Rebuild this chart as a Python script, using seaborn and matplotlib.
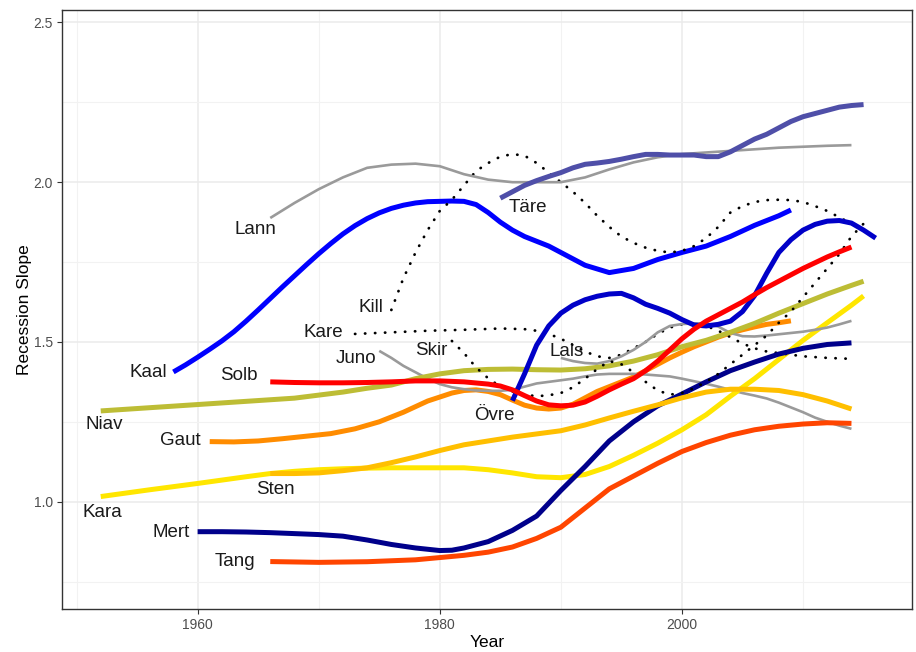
import numpy as np
import pandas as pd
import matplotlib
matplotlib.use("Agg")
import matplotlib.pyplot as plt
import seaborn as sns

# ---- station series: year / recession slope ----
lann_year = [1966, 1968, 1970, 1972, 1974, 1976, 1978, 1980, 1982, 1984, 1986, 1988, 1990,
             1992, 1994, 1996, 1998, 2000, 2002, 2004, 2006, 2008, 2010, 2012, 2014]
lann_val = [1.888, 1.935, 1.978, 2.015, 2.045, 2.055, 2.058, 2.050, 2.025, 2.008, 2.000, 2.000, 2.000,
            2.015, 2.040, 2.062, 2.078, 2.088, 2.093, 2.098, 2.103, 2.108, 2.111, 2.114, 2.116]

tare_year = [1985, 1986, 1987, 1988, 1989, 1990, 1991, 1992, 1993, 1994, 1995, 1996, 1997, 1998,
             1999, 2000, 2001, 2002, 2003, 2004, 2005, 2006, 2007, 2008, 2009, 2010, 2011, 2012,
             2013, 2014, 2015]
tare_val = [1.950, 1.970, 1.990, 2.005, 2.018, 2.030, 2.045, 2.056, 2.060, 2.065, 2.072, 2.080, 2.087,
            2.087, 2.085, 2.085, 2.085, 2.080, 2.080, 2.095, 2.115, 2.135, 2.150, 2.170, 2.190, 2.205,
            2.215, 2.225, 2.235, 2.240, 2.243]

kaal_year = [1958, 1959, 1960, 1961, 1962, 1963, 1964, 1965, 1966, 1967, 1968, 1969, 1970, 1971,
             1972, 1973, 1974, 1975, 1976, 1977, 1978, 1979, 1980, 1981, 1982,
             1983, 1984, 1985, 1986, 1987, 1988, 1989, 1990, 1992, 1994, 1996, 1998, 2000, 2002,
             2004, 2006, 2008, 2009]
kaal_val = [1.406, 1.428, 1.452, 1.477, 1.503, 1.532, 1.565, 1.600, 1.636, 1.672, 1.707, 1.742, 1.776,
            1.808, 1.838, 1.864, 1.886, 1.904, 1.918, 1.928, 1.935, 1.939, 1.940, 1.941, 1.940,
            1.930, 1.905, 1.875, 1.850, 1.830, 1.815, 1.800, 1.780, 1.740, 1.717, 1.730,
            1.758, 1.780, 1.800, 1.830, 1.865, 1.895, 1.913]

ovre_year = [1986, 1987, 1988, 1989, 1990, 1991, 1992, 1993, 1994, 1995, 1996, 1997, 1998, 1999,
             2000, 2001, 2002, 2003, 2004, 2005, 2006, 2007, 2008, 2009, 2010, 2011, 2012, 2013,
             2014, 2015, 2016]
ovre_val = [1.316, 1.400, 1.490, 1.550, 1.590, 1.615, 1.632, 1.643, 1.650, 1.652, 1.638, 1.618, 1.605,
            1.590, 1.570, 1.553, 1.550, 1.555, 1.565, 1.595, 1.645, 1.715, 1.780, 1.820, 1.850, 1.868,
            1.878, 1.880, 1.872, 1.850, 1.825]

kill_year = [1976, 1977, 1978, 1979, 1980, 1981, 1982, 1983, 1984, 1985, 1986, 1987, 1988, 1989,
             1990, 1991, 1992, 1993, 1994, 1995, 1996, 1997, 1998, 1999, 2000, 2001, 2002, 2003,
             2004, 2005, 2006, 2007, 2008, 2009, 2010, 2011, 2012, 2013, 2014, 2015]
kill_val = [1.600, 1.700, 1.780, 1.850, 1.910, 1.945, 1.990, 2.035, 2.060, 2.080, 2.088, 2.083, 2.060,
            2.030, 2.000, 1.970, 1.935, 1.895, 1.860, 1.830, 1.810, 1.795, 1.785, 1.780, 1.785, 1.800,
            1.825, 1.860, 1.905, 1.925, 1.938, 1.944, 1.945, 1.944, 1.938, 1.925, 1.910, 1.890, 1.870,
            1.850]

kare_year = [1973, 1976, 1979, 1982, 1985, 1987, 1988, 1989, 1990, 1991, 1992, 1993, 1994, 1995,
             1996, 1997, 1998, 1999, 2000, 2001, 2002, 2003, 2004, 2005, 2006, 2007, 2008, 2010,
             2012, 2014]
kare_val = [1.525, 1.530, 1.535, 1.538, 1.542, 1.540, 1.535, 1.525, 1.510, 1.490, 1.470, 1.455, 1.450,
            1.460, 1.480, 1.500, 1.525, 1.545, 1.555, 1.555, 1.550, 1.535, 1.515, 1.495, 1.480, 1.470,
            1.465, 1.455, 1.450, 1.447]

skir_year = [1981, 1982, 1983, 1984, 1985, 1986, 1987, 1988, 1989, 1990, 1991, 1992, 1993, 1994,
             1995, 1996, 1997, 1998, 1999, 2000, 2001, 2002, 2003, 2004, 2005, 2006, 2007, 2008,
             2009, 2010, 2011, 2012, 2013, 2014, 2015]
skir_val = [1.503, 1.465, 1.420, 1.386, 1.360, 1.345, 1.335, 1.330, 1.333, 1.340, 1.358, 1.385, 1.415,
            1.440, 1.430, 1.405, 1.375, 1.348, 1.335, 1.340, 1.355, 1.375, 1.400, 1.430, 1.460, 1.490,
            1.520, 1.560, 1.595, 1.640, 1.685, 1.730, 1.775, 1.830, 1.870]

lais_year = [1990, 1991, 1992, 1993, 1994, 1995, 1996, 1997, 1998, 1999, 2000, 2001, 2002, 2003,
             2004, 2005, 2006, 2007, 2008, 2009, 2010, 2011, 2012, 2013, 2014]
lais_val = [1.450, 1.440, 1.434, 1.432, 1.440, 1.455, 1.475, 1.500, 1.530, 1.550, 1.556, 1.558, 1.558,
            1.548, 1.528, 1.518, 1.517, 1.520, 1.524, 1.528, 1.532, 1.538, 1.545, 1.555, 1.566]

juno_year = [1975, 1976, 1977, 1978, 1979, 1980, 1981, 1982, 1983, 1984, 1985, 1986, 1987, 1988,
             1989, 1990, 1991, 1992, 1993, 1994, 1995, 1996, 1997, 1998, 1999, 2000, 2001, 2002,
             2003, 2004, 2005, 2006, 2007, 2008, 2009, 2010, 2011, 2012, 2013, 2014]
juno_val = [1.472, 1.450, 1.425, 1.405, 1.385, 1.368, 1.358, 1.352, 1.348, 1.347, 1.347, 1.350, 1.360,
            1.370, 1.375, 1.380, 1.385, 1.392, 1.398, 1.400, 1.400, 1.400, 1.398, 1.395, 1.392, 1.385,
            1.377, 1.369, 1.360, 1.350, 1.340, 1.332, 1.323, 1.310, 1.295, 1.280, 1.263, 1.250, 1.238,
            1.228]

solb_year = [1966, 1968, 1970, 1972, 1974, 1976, 1978, 1980, 1982, 1984, 1985, 1986, 1987, 1988,
             1989, 1990, 1991, 1992, 1993, 1994, 1995, 1996, 1997, 1998, 1999, 2000, 2001, 2002,
             2003, 2004, 2005, 2006, 2007, 2008, 2009, 2010, 2011, 2012, 2013, 2014]
solb_val = [1.375, 1.373, 1.372, 1.372, 1.373, 1.375, 1.378, 1.378, 1.375, 1.368, 1.362, 1.350, 1.332,
            1.315, 1.303, 1.300, 1.302, 1.312, 1.330, 1.350, 1.368, 1.385, 1.410, 1.440, 1.475, 1.510,
            1.540, 1.565, 1.585, 1.605, 1.625, 1.648, 1.670, 1.690, 1.710, 1.730, 1.748, 1.766, 1.782,
            1.797]

niav_year = [1952, 1956, 1960, 1964, 1968, 1972, 1974, 1976, 1978, 1980, 1982, 1984, 1986, 1988,
             1990, 1992, 1994, 1996, 1998, 2000, 2002, 2004, 2006, 2008, 2010, 2012, 2014, 2015]
niav_val = [1.284, 1.294, 1.304, 1.314, 1.324, 1.343, 1.355, 1.365, 1.385, 1.400, 1.410, 1.414, 1.415,
            1.413, 1.412, 1.416, 1.425, 1.440, 1.460, 1.485, 1.505, 1.530, 1.558, 1.590, 1.620, 1.650,
            1.677, 1.690]

gaut_year = [1961, 1963, 1965, 1967, 1969, 1971, 1973, 1975, 1977, 1979, 1981, 1982, 1983, 1984,
             1985, 1986, 1987, 1988, 1989, 1990, 1991, 1992, 1993, 1994, 1995, 1996, 1997, 1998,
             1999, 2000, 2001, 2002, 2003, 2004, 2005, 2006, 2007, 2008, 2009]
gaut_val = [1.188, 1.187, 1.190, 1.197, 1.205, 1.213, 1.228, 1.250, 1.280, 1.315, 1.340, 1.348, 1.350,
            1.345, 1.335, 1.318, 1.302, 1.293, 1.290, 1.293, 1.305, 1.325, 1.345, 1.360, 1.375, 1.390,
            1.410, 1.430, 1.450, 1.468, 1.485, 1.500, 1.515, 1.528, 1.538, 1.547, 1.555, 1.560, 1.566]

sten_year = [1966, 1968, 1970, 1972, 1974, 1976, 1978, 1980, 1982, 1984, 1986, 1988, 1990, 1992,
             1994, 1996, 1998, 2000, 2002, 2004, 2006, 2008, 2010, 2012, 2014]
sten_val = [1.088, 1.088, 1.090, 1.097, 1.106, 1.122, 1.140, 1.160, 1.178, 1.190, 1.202, 1.212, 1.222,
            1.240, 1.262, 1.283, 1.303, 1.325, 1.343, 1.352, 1.352, 1.348, 1.335, 1.315, 1.290]

kara_year = [1952, 1956, 1960, 1964, 1966, 1968, 1970, 1972, 1974, 1976, 1978, 1980, 1982, 1984,
             1986, 1988, 1990, 1992, 1994, 1996, 1998, 2000, 2002, 2004, 2006, 2008, 2010, 2012,
             2014, 2015]
kara_val = [1.016, 1.037, 1.057, 1.078, 1.088, 1.095, 1.100, 1.103, 1.105, 1.106, 1.106, 1.106, 1.106,
            1.100, 1.090, 1.078, 1.075, 1.085, 1.110, 1.145, 1.183, 1.225, 1.272, 1.330, 1.385, 1.445,
            1.505, 1.560, 1.615, 1.644]

mert_year = [1960, 1962, 1964, 1966, 1968, 1970, 1972, 1974, 1976, 1978, 1980, 1981, 1982, 1984,
             1986, 1988, 1990, 1992, 1994, 1996, 1998, 2000, 2002, 2004, 2006, 2008, 2010, 2012, 2014]
mert_val = [0.906, 0.906, 0.905, 0.903, 0.900, 0.897, 0.892, 0.880, 0.866, 0.855, 0.847, 0.848, 0.855,
            0.875, 0.910, 0.955, 1.035, 1.110, 1.190, 1.250, 1.300, 1.337, 1.375, 1.410, 1.437, 1.462,
            1.480, 1.492, 1.497]

tang_year = [1966, 1970, 1974, 1978, 1980, 1982, 1984, 1986, 1988, 1990, 1992, 1994, 1996, 1998,
             2000, 2002, 2004, 2006, 2008, 2010, 2012, 2014]
tang_val = [0.8125, 0.810, 0.812, 0.818, 0.825, 0.832, 0.842, 0.858, 0.885, 0.920, 0.980, 1.040, 1.080,
            1.120, 1.157, 1.185, 1.208, 1.225, 1.236, 1.243, 1.247, 1.245]

# ---- station names, drawing order, label anchors ----
stations = ["Gaut", "Juno", "Kaal", "Kara", "Kare", "Kill", "Lais", "Lann",
            "Mert", "Niav", "Övre", "Skir", "Solb", "Sten", "Tang", "Täre"]
series = {
    "Gaut": (gaut_year, gaut_val), "Juno": (juno_year, juno_val),
    "Kaal": (kaal_year, kaal_val), "Kara": (kara_year, kara_val),
    "Kare": (kare_year, kare_val), "Kill": (kill_year, kill_val),
    "Lais": (lais_year, lais_val), "Lann": (lann_year, lann_val),
    "Mert": (mert_year, mert_val), "Niav": (niav_year, niav_val),
    "Övre": (ovre_year, ovre_val), "Skir": (skir_year, skir_val),
    "Solb": (solb_year, solb_val), "Sten": (sten_year, sten_val),
    "Tang": (tang_year, tang_val), "Täre": (tare_year, tare_val),
}
label_year = {"Lann": 1964.8, "Täre": 1987.3, "Kill": 1974.3, "Kare": 1970.4,
              "Juno": 1973.1, "Skir": 1979.3, "Kaal": 1955.9, "Solb": 1963.4,
              "Lais": 1990.5, "Niav": 1952.3, "Gaut": 1958.6, "Övre": 1984.5,
              "Sten": 1966.4, "Kara": 1952.1, "Mert": 1957.8, "Tang": 1963.1}
label_value = {"Lann": 1.853, "Täre": 1.922, "Kill": 1.609, "Kare": 1.528,
               "Juno": 1.447, "Skir": 1.472, "Kaal": 1.403, "Solb": 1.394,
               "Lais": 1.469, "Niav": 1.241, "Gaut": 1.191, "Övre": 1.269,
               "Sten": 1.0375, "Kara": 0.966, "Mert": 0.903, "Tang": 0.8125}

colors = {"Gaut": "#FF8C00", "Juno": "#9A9A9A", "Kaal": "#0000FF", "Kara": "#FFE600",
          "Kare": "#000000", "Kill": "#000000", "Lais": "#9A9A9A", "Lann": "#9A9A9A",
          "Mert": "#00008B", "Niav": "#BDBD35", "Övre": "#0000C8", "Skir": "#000000",
          "Solb": "#FF0000", "Sten": "#FFBF00", "Tang": "#FF4500", "Täre": "#4F4FA8"}
thin_grey = {"Juno", "Lais", "Lann"}
dotted = {"Kare", "Kill", "Skir"}

frames = []
for name in stations:
    yrs, vals = series[name]
    frames.append(pd.DataFrame({"Year": yrs, "Slope": vals, "Station": name}))
df = pd.concat(frames, ignore_index=True)

sns.set_theme(style="white")
plt.rcParams["font.family"] = ["Liberation Sans", "DejaVu Sans"]

fig = plt.figure(figsize=(9.16, 6.52), dpi=100)
ax = fig.add_axes([62 / 916, 43 / 652, 850 / 916, 599 / 652])

for name in stations:
    sub = df[df["Station"] == name]
    if name in dotted:
        sns.lineplot(data=sub, x="Year", y="Slope", ax=ax, color=colors[name],
                     lw=2.0, linestyle=(0, (0.1, 3.5)), dash_capstyle="round",
                     estimator=None, sort=False, legend=False)
    elif name in thin_grey:
        sns.lineplot(data=sub, x="Year", y="Slope", ax=ax, color=colors[name],
                     lw=1.9, estimator=None, sort=False, legend=False,
                     solid_capstyle="butt")
    else:
        sns.lineplot(data=sub, x="Year", y="Slope", ax=ax, color=colors[name],
                     lw=3.6, estimator=None, sort=False, legend=False,
                     solid_capstyle="butt", solid_joinstyle="round")

for name in stations:
    ax.text(label_year[name], label_value[name], name, ha="center", va="center",
            fontsize=13.5, color="#1A1A1A")

ax.set_xlim(1948.8, 2019.0)
ax.set_ylim(0.664, 2.539)
ax.set_xticks([1960, 1980, 2000])
ax.set_xticks([1950, 1970, 1990, 2010], minor=True)
ax.set_yticks([1.0, 1.5, 2.0, 2.5])
ax.set_yticks([0.75, 1.25, 1.75, 2.25], minor=True)
ax.set_yticklabels(["1.0", "1.5", "2.0", "2.5"])
ax.grid(True, which="major", color="#EBEBEB", lw=1.1)
ax.grid(True, which="minor", color="#F2F2F2", lw=0.8)
ax.set_axisbelow(True)
ax.tick_params(axis="both", which="major", length=3.5, width=0.8, color="#333333",
               labelsize=10, labelcolor="#4D4D4D", direction="out", bottom=True, left=True, pad=3)
ax.tick_params(axis="both", which="minor", length=0)
for s in ax.spines.values():
    s.set_color("#333333")
    s.set_linewidth(1.0)

ax.set_xlabel("Year", fontsize=12.5, color="black", labelpad=2)
ax.set_ylabel("Recession Slope", fontsize=12.5, color="black", labelpad=1)

fig.savefig("out.png", dpi=100, facecolor="white")
